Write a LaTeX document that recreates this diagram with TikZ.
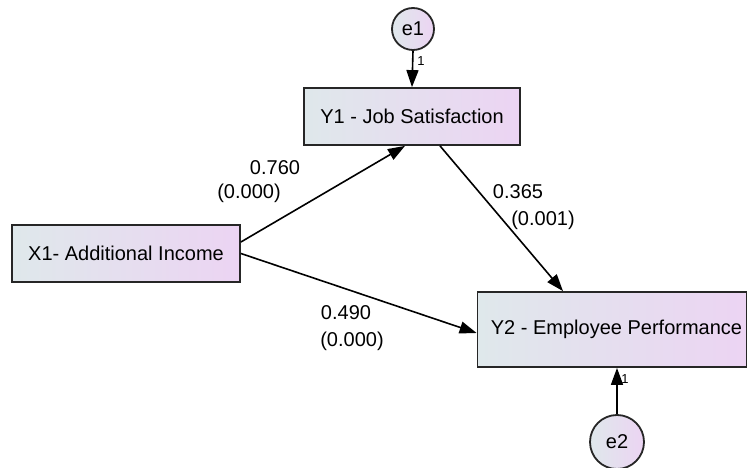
\documentclass[tikz,border=0pt]{standalone}
\usepackage{fontspec}
\setmainfont{Liberation Sans}
\usetikzlibrary{arrows.meta}
\definecolor{gleft}{RGB}{223,232,235}
\definecolor{gright}{RGB}{236,212,243}
\tikzset{
  varbox/.style={draw=black!85, line width=1.8pt, left color=gleft, right color=gright, inner sep=0pt, font=\fontsize{20}{24}\selectfont},
  errc/.style={circle, draw=black!85, line width=1.8pt, left color=gleft, right color=gright, inner sep=0pt, font=\fontsize{20}{24}\selectfont},
  path/.style={draw=black, line width=1.6pt, -{Triangle[length=17pt,width=12pt]}},
  coef/.style={font=\fontsize{20}{24}\selectfont, inner sep=0pt},
  one/.style={font=\fontsize{13}{14}\selectfont, inner sep=0pt}
}
\begin{document}
\begin{tikzpicture}[x=1pt,y=-1pt]
\useasboundingbox (0,0) rectangle (748,468);
\node[errc, minimum size=42pt] (e1) at (413,29) {e1};
\node[varbox, minimum width=216pt, minimum height=57pt] (Y1) at (412,116.5) {Y1 - Job Satisfaction};
\node[varbox, minimum width=228pt, minimum height=57pt] (X1) at (126,253.5) {X1- Additional Income};
\node[varbox, minimum width=269pt, minimum height=75pt] (Y2) at (612,329.5) {\hspace*{9pt}Y2 - Employee Performance};
\node[errc, minimum size=54pt] (e2) at (617,442) {e2};

\draw[path] (e1.south) -- (Y1.north);
\draw[path] (e2.north) -- ([xshift=5pt]Y2.south);
\draw[path] ([yshift=11.5pt]X1.east) -- ([xshift=-7pt]Y1.south);
\draw[path] ([xshift=28pt]Y1.south) -- ([xshift=-49pt]Y2.north);
\draw[path] (X1.east) -- ([yshift=-3.5pt]Y2.west);

\node[one] (l1) at (421,61) {1};
\node[one] (l2) at (625,379) {1};
\node[coef] (c1a) at (275,168) {0.760};
\node[coef] (c1b) at (249,193) {(0.000)};
\node[coef] (c2a) at (518,192) {0.365};
\node[coef] (c2b) at (543,220) {(0.001)};
\node[coef] (c3a) at (346,313) {0.490};
\node[coef] (c3b) at (352,341) {(0.000)};
\end{tikzpicture}
\end{document}
